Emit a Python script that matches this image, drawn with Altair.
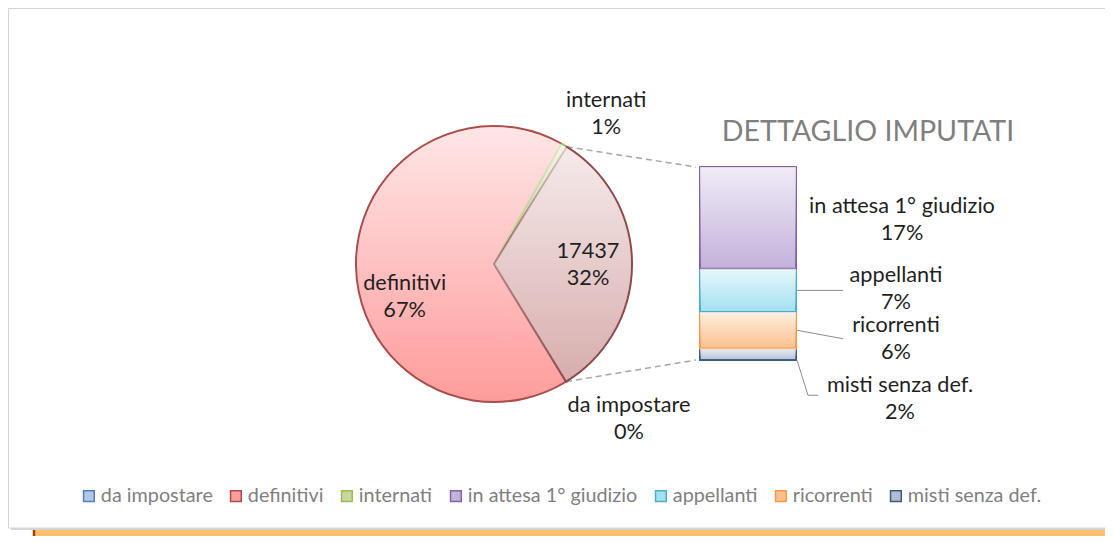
import math
import altair as alt
import pandas as pd

# ---------------- data ----------------
pie_categories = ["da impostare", "definitivi", "internati", "imputati"]
pie_values = [8, 36000, 370, 17437]

detail_categories = ["in attesa 1° giudizio", "appellanti", "ricorrenti", "misti senza def."]
detail_values = [9200, 3900, 3300, 1037]

legend_categories = ["da impostare", "definitivi", "internati",
                     "in attesa 1° giudizio", "appellanti", "ricorrenti", "misti senza def."]

detail_title = ["DETTAGLIO IMPUTATI"]

# ---------------- styles ----------------
fill_colors = {
    "da impostare": "#B3C8E3",
    "definitivi": "#FF9C9C",
    "internati": "#C6D9A0",
    "in attesa 1° giudizio": "#C4B2DB",
    "appellanti": "#A3E0F1",
    "ricorrenti": "#FBC08D",
    "misti senza def.": "#B2BFD3",
    "imputati": "#D8ADAD",
}
stroke_colors = {
    "da impostare": "#4F81BD",
    "definitivi": "#A84C4C",
    "internati": "#9BBB59",
    "in attesa 1° giudizio": "#8064A2",
    "appellanti": "#4BACC6",
    "ricorrenti": "#F79646",
    "misti senza def.": "#3D5A80",
    "imputati": "#8C4A4A",
}
FONT = "Lato"
LABEL_COLOR = "#1F1F1F"
GREY_TEXT = "#7F7F7F"
LABEL_SIZE = 21.7
LINE_H = 27

W, H = 1097, 528
CX, CY, R = 486, 256, 138
A0 = math.radians(148.5)
BAR_X0, BAR_X1 = 692, 788
BAR_TOP, BAR_BOT = 159, 352

# label layout: (radius px, angle offset in degrees from slice middle)
pie_label_layout = {
    "da impostare": (205, -9.7),
    "definitivi": (95, -18.8),
    "internati": (188, 6.0),
    "imputati": (94, 0.4),
}
show_value_instead_of_name = {"imputati"}
# bar label layout: (x px, dy px from segment middle)
bar_label_layout = {
    "in attesa 1° giudizio": (894, 1.5),
    "appellanti": (888, -2),
    "ricorrenti": (888, 8.5),
    "misti senza def.": (892, 44),
}
# leader lines: offsets from (bar right edge, segment middle)
leader_layout = {
    "appellanti": [(1, 0), (47, 0)],
    "ricorrenti": [(1, 0), (47, 8.5)],
    "misti senza def.": [(1, 6), (12, 41), (22, 41)],
}

# ---------------- derived tables ----------------
total = sum(pie_values)
rows = []
cum = 0
for c, v in zip(pie_categories, pie_values):
    rows.append(dict(cat=c, value=v, t0=cum, t1=cum + v, mid=cum + v / 2,
                     pct=round(100 * v / total)))
    cum += v
pie_df = pd.DataFrame(rows)
pie_draw_df = pie_df[pie_df["value"] / total >= 0.001]

lab_rows = []
for r in rows:
    rad, off = pie_label_layout[r["cat"]]
    head = str(r["value"]) if r["cat"] in show_value_instead_of_name else r["cat"]
    lab_rows.append(dict(cat=r["cat"], lt=r["mid"] + off / 360 * total, lr=rad,
                         label=f"{head}\n{r['pct']}%"))
pie_lab_df = pd.DataFrame(lab_rows)

imp_total = sum(detail_values)
px_per_unit = (BAR_BOT - BAR_TOP) / imp_total
brows = []
cum = 0
for c, v in reversed(list(zip(detail_categories, detail_values))):
    brows.append(dict(cat=c, value=v, y0=cum, y1=cum + v, mid=cum + v / 2,
                      pct=round(100 * v / total)))
    cum += v
bar_df = pd.DataFrame(brows)

blab = []
for b in brows:
    lx, dy = bar_label_layout[b["cat"]]
    blab.append(dict(cat=b["cat"], lx=lx, ly=b["mid"] - dy / px_per_unit,
                     label=f"{b['cat']}\n{b['pct']}%"))
bar_lab_df = pd.DataFrame(blab)

lrows = []
for b in brows:
    if b["cat"] in leader_layout:
        ymid = BAR_BOT - b["mid"] * px_per_unit
        for k, (dx, dy) in enumerate(leader_layout[b["cat"]]):
            lrows.append(dict(cat=b["cat"], k=k, px=BAR_X1 + dx, py=ymid + dy))
leader_df = pd.DataFrame(lrows)

imp_start = A0 + 2 * math.pi * (total - pie_values[pie_categories.index("imputati")]) / total
imp_end = A0 + 2 * math.pi
conn_df = pd.DataFrame([
    dict(x=CX + R * math.sin(imp_start), y=CY - R * math.cos(imp_start), x2=BAR_X0 - 4, y2=BAR_TOP),
    dict(x=CX + R * math.sin(imp_end), y=CY - R * math.cos(imp_end), x2=BAR_X0 - 4, y2=BAR_BOT),
])

one = pd.DataFrame({"t": detail_title})

# ---------------- scales ----------------
domain = legend_categories + ["imputati"]
fill_scale = alt.Scale(domain=domain, range=[fill_colors[c] for c in domain])
stroke_scale = alt.Scale(domain=domain, range=[stroke_colors[c] for c in domain])
theta_scale = alt.Scale(domain=[0, total], range=[A0, A0 + 2 * math.pi], nice=False, zero=False)
y_scale = alt.Scale(domain=[0, imp_total], range=[BAR_BOT, BAR_TOP], nice=False, zero=False)

leg = alt.Legend(title=None, orient="none", legendX=71, legendY=478, direction="horizontal",
                 symbolType="square", symbolSize=115, symbolStrokeWidth=1.5,
                 labelFont=FONT, labelFontSize=19.8, labelColor=GREY_TEXT, labelLimit=400,
                 columnPadding=13, labelOffset=2, values=legend_categories)

gloss = {"gradient": "linear", "x1": 0, "y1": 0, "x2": 0, "y2": 1,
         "stops": [{"offset": 0, "color": "rgba(255,255,255,0.75)"},
                   {"offset": 1, "color": "rgba(255,255,255,0)"}]}

# ---------------- background ----------------
orange = alt.Chart(one).mark_rect(fill="#FFC06C", stroke="#A0410D", strokeWidth=2.5).encode(
    x=alt.value(26), x2=alt.value(W + 20), y=alt.value(85), y2=alt.value(H + 20))
shadow = alt.Chart(one).mark_rect(fill="#D6D6D6").encode(
    x=alt.value(3), x2=alt.value(1101), y=alt.value(3), y2=alt.value(522))
panel = alt.Chart(one).mark_rect(fill="white", stroke="#D3D3D3", strokeWidth=1).encode(
    x=alt.value(0.5), x2=alt.value(1099), y=alt.value(0.5), y2=alt.value(520))

# ---------------- pie ----------------
pie_base = alt.Chart(pie_draw_df).encode(
    theta=alt.Theta("t0:Q", scale=theta_scale, stack=False),
    theta2="t1:Q",
    x=alt.value(CX), y=alt.value(CY),
)
pie_fill = pie_base.mark_arc(radius=R, strokeWidth=2).encode(
    fill=alt.Fill("cat:N", scale=fill_scale, legend=leg),
    stroke=alt.Stroke("cat:N", scale=stroke_scale, legend=leg),
)
pie_gloss = pie_base.mark_arc(radius=R - 1, fill=gloss)

connectors = alt.Chart(conn_df).mark_rule(strokeDash=[6, 4], color="#A6A6A6", strokeWidth=1.5).encode(
    x=alt.X("x:Q", scale=None), y=alt.Y("y:Q", scale=None), x2="x2:Q", y2="y2:Q")

# ---------------- bar of pie ----------------
bar_base = alt.Chart(bar_df).encode(
    x=alt.value(BAR_X0), x2=alt.value(BAR_X1),
    y=alt.Y("y0:Q", scale=y_scale, axis=None), y2="y1:Q",
)
bars = bar_base.mark_rect(strokeWidth=2).encode(
    fill=alt.Fill("cat:N", scale=fill_scale, legend=leg),
    stroke=alt.Stroke("cat:N", scale=stroke_scale, legend=leg),
)
bar_gloss = bar_base.mark_rect(fill=gloss)

leaders = alt.Chart(leader_df).mark_line(color="#8C8C8C", strokeWidth=1).encode(
    x=alt.X("px:Q", scale=None), y=alt.Y("py:Q", scale=None), detail="cat:N", order="k:O")

# ---------------- labels ----------------
text_style = dict(font=FONT, fontSize=LABEL_SIZE, color=LABEL_COLOR, lineBreak="\n",
                  lineHeight=LINE_H, dy=-LINE_H / 2, align="center", baseline="middle")
pie_labels = alt.Chart(pie_lab_df).mark_text(**text_style).encode(
    theta=alt.Theta("lt:Q", scale=theta_scale, stack=False),
    radius=alt.Radius("lr:Q", scale=None),
    x=alt.value(CX), y=alt.value(CY),
    text="label:N",
)
bar_labels = alt.Chart(bar_lab_df).mark_text(**text_style).encode(
    x=alt.X("lx:Q", scale=None),
    y=alt.Y("ly:Q", scale=y_scale, axis=None),
    text="label:N",
)
title = alt.Chart(one).mark_text(font=FONT, fontSize=28.6, color=GREY_TEXT, align="center",
                                 baseline="middle").encode(
    x=alt.value(860), y=alt.value(124), text="t:N")

chart = alt.layer(
    orange, shadow, panel, connectors, pie_fill, pie_gloss, bars, bar_gloss, leaders,
    pie_labels, bar_labels, title,
).properties(
    width=W, height=H, autosize=alt.AutoSizeParams(type="none"), padding=0, background="white"
).configure_view(strokeWidth=0)

chart.save("out.html", embed_options={"renderer": "svg", "actions": False})
